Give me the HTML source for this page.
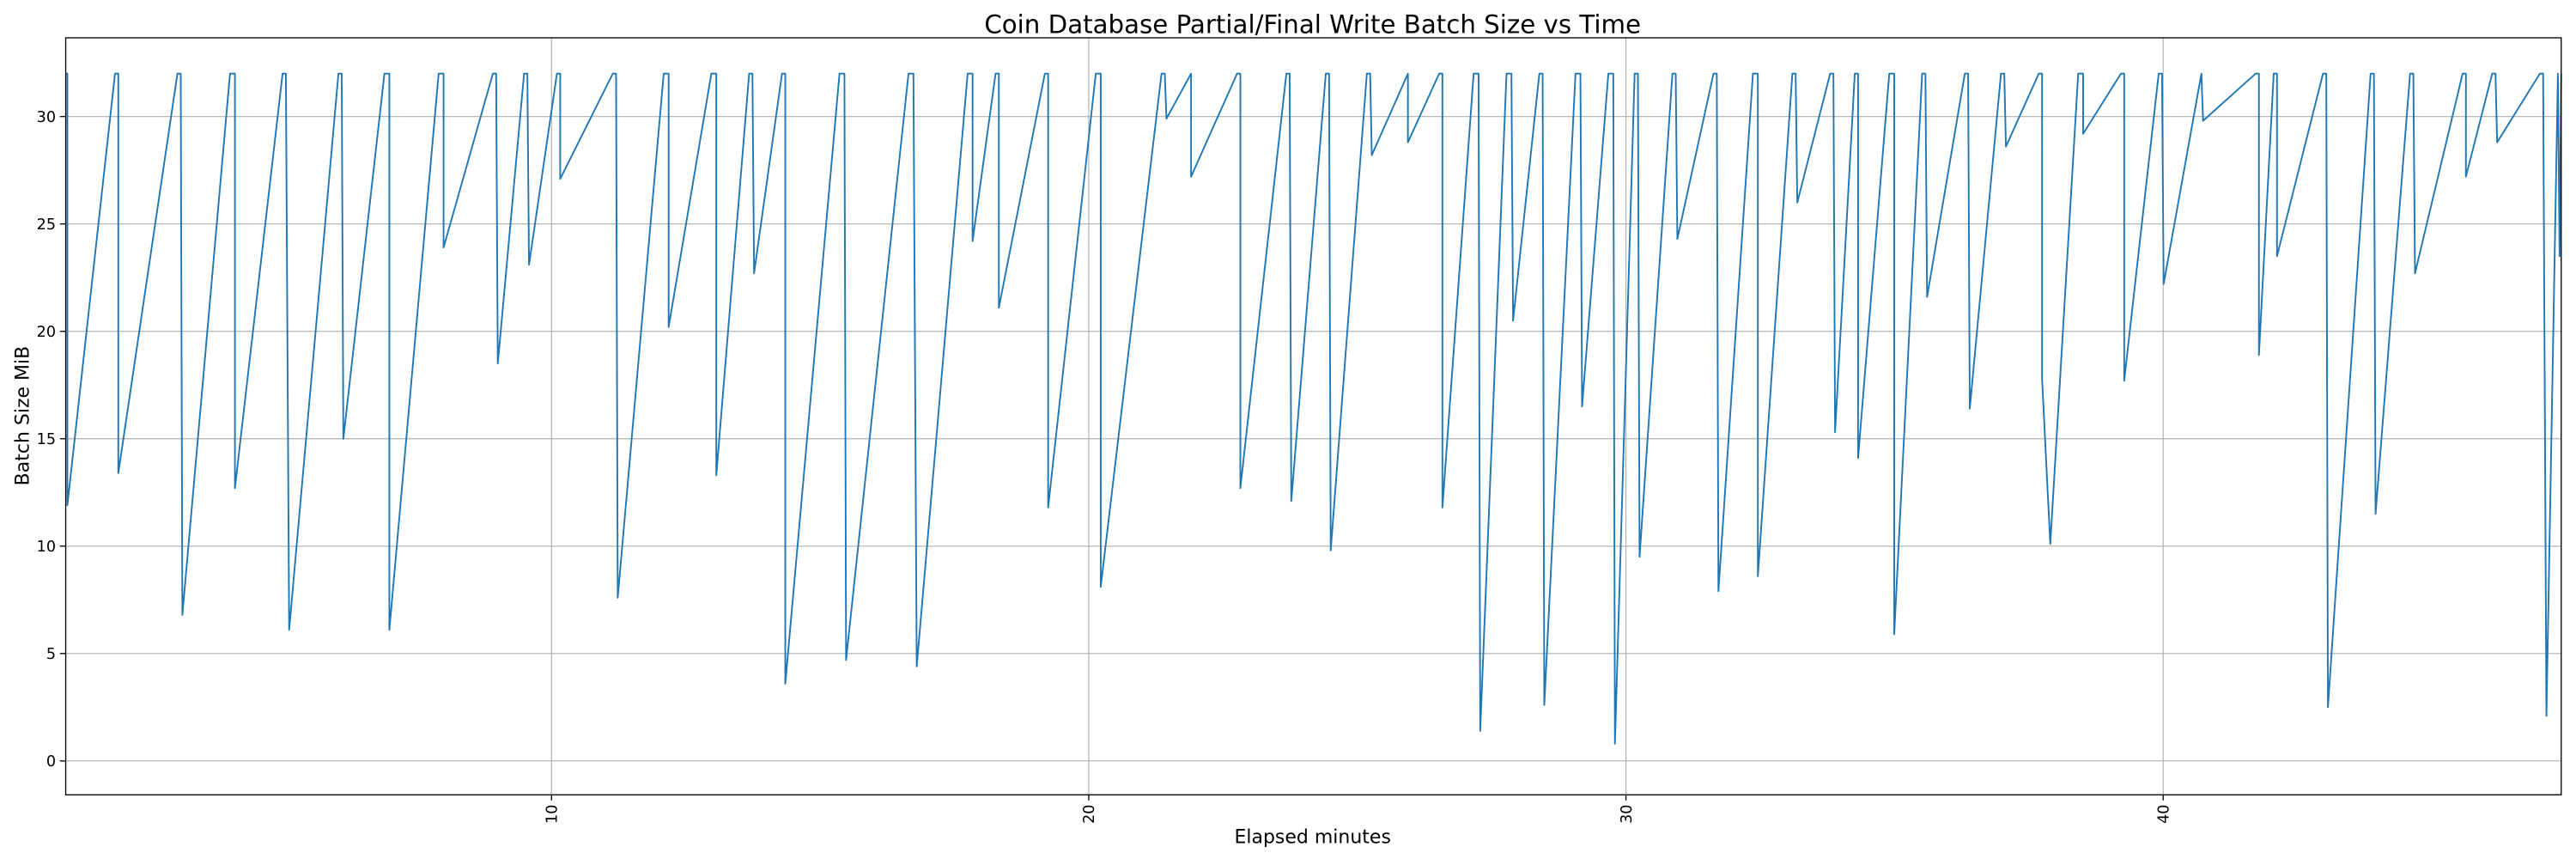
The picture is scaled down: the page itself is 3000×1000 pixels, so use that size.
<!DOCTYPE html>
<html><head><meta charset="utf-8"><style>html,body{margin:0;padding:0;background:#fff}svg{display:block}</style></head>
<body>
<svg width="3000" height="1000" viewBox="0 0 1568 522.67" xmlns="http://www.w3.org/2000/svg" font-family="DejaVu Sans, Liberation Sans, sans-serif">
<rect width="1568" height="522.67" fill="#fff"/>
<g stroke="#b0b0b0" stroke-width="0.6">
<line x1="40" x2="1559" y1="463" y2="463"/><line x1="40" x2="1559" y1="397.65" y2="397.65"/><line x1="40" x2="1559" y1="332.3" y2="332.3"/><line x1="40" x2="1559" y1="266.95" y2="266.95"/><line x1="40" x2="1559" y1="201.6" y2="201.6"/><line x1="40" x2="1559" y1="136.25" y2="136.25"/><line x1="40" x2="1559" y1="70.9" y2="70.9"/>
<line x1="335.7" x2="335.7" y1="23" y2="483.6"/><line x1="662.7" x2="662.7" y1="23" y2="483.6"/><line x1="989.7" x2="989.7" y1="23" y2="483.6"/><line x1="1316.7" x2="1316.7" y1="23" y2="483.6"/>
</g>
<polyline fill="none" stroke="#1f77b4" stroke-width="1" stroke-linejoin="round" points="40,44.8 41,44.8 41,307.5 70,44.8 72,44.8 72,287.9 108,44.8 110,44.8 111,374.1 140,44.8 143,44.8 143,297 172,44.8 174,44.8 176,383.3 206,44.8 208,44.8 209,267 234,44.8 237,44.8 237,383.3 267,44.8 270,44.8 270,150.6 300,44.8 302,44.8 303,221.2 319,44.8 321,44.8 322,161.1 339,44.8 341,44.8 341,108.8 373,44.8 375,44.8 376,363.7 404,44.8 407,44.8 407,199 433,44.8 436,44.8 436,289.2 456,44.8 458,44.8 459,166.3 476,44.8 478,44.8 478,416 511,44.8 514,44.8 515,401.6 553,44.8 556,44.8 558,405.5 589,44.8 592,44.8 592,146.7 606,44.8 608,44.8 608,187.2 636,44.8 638,44.8 638,308.8 667,44.8 670,44.8 670,357.1 707,44.8 709,44.8 710,72.2 725,44.8 725,107.5 753,44.8 755,44.8 755,297 783,44.8 785,44.8 786,304.9 807,44.8 809,44.8 810,334.9 832,44.8 834,44.8 835,94.4 857,44.8 857,86.6 876,44.8 878,44.8 878,308.8 897,44.8 900,44.8 901,444.7 917,44.8 920,44.8 921,195.1 937,44.8 939,44.8 940,429 959,44.8 962,44.8 963,247.3 979,44.8 982,44.8 983,452.5 995,44.8 997,44.8 998,338.8 1018,44.8 1020,44.8 1021,145.4 1043,44.8 1045,44.8 1046,359.7 1067,44.8 1070,44.8 1070,350.6 1091,44.8 1093,44.8 1094,123.2 1114,44.8 1116,44.8 1117,263 1129,44.8 1131,44.8 1131,278.7 1150,44.8 1153,44.8 1153,385.9 1170,44.8 1172,44.8 1173,180.7 1196,44.8 1198,44.8 1199,248.7 1218,44.8 1220,44.8 1221,89.2 1241,44.8 1243,44.8 1243,230.4 1248,331 1265,44.8 1268,44.8 1268,81.4 1291,44.8 1293,44.8 1293,231.7 1314,44.8 1316,44.8 1317,172.8 1340,44.8 1341,73.5 1373,44.8 1375,44.8 1375,216 1384,44.8 1386,44.8 1386,155.9 1414,44.8 1416,44.8 1417,430.3 1443,44.8 1445,44.8 1446,312.7 1467,44.8 1469,44.8 1470,166.3 1499,44.8 1501,44.8 1501,107.5 1517,44.8 1519,44.8 1520,86.6 1546,44.8 1548,44.8 1550,435.6 1557,44.8 1558,155.9 1559,44.8"/>
<rect x="40" y="23" width="1519" height="460.6" fill="none" stroke="#000" stroke-width="0.7"/>
<g stroke="#000" stroke-width="0.7">
<line x1="36.5" x2="40" y1="463" y2="463"/><line x1="36.5" x2="40" y1="397.65" y2="397.65"/><line x1="36.5" x2="40" y1="332.3" y2="332.3"/><line x1="36.5" x2="40" y1="266.95" y2="266.95"/><line x1="36.5" x2="40" y1="201.6" y2="201.6"/><line x1="36.5" x2="40" y1="136.25" y2="136.25"/><line x1="36.5" x2="40" y1="70.9" y2="70.9"/>
<line x1="335.7" x2="335.7" y1="483.6" y2="487"/><line x1="662.7" x2="662.7" y1="483.6" y2="487"/><line x1="989.7" x2="989.7" y1="483.6" y2="487"/><line x1="1316.7" x2="1316.7" y1="483.6" y2="487"/>
</g>
<g font-size="9.2" text-anchor="end" fill="#000">
<text x="34" y="466.3">0</text><text x="34" y="401">5</text><text x="34" y="335.6">10</text><text x="34" y="270.3">15</text><text x="34" y="204.9">20</text><text x="34" y="139.6">25</text><text x="34" y="74.2">30</text>
</g>
<g font-size="9.2" text-anchor="end" fill="#000">
<text transform="translate(339,489.5) rotate(-90)">10</text>
<text transform="translate(666,489.5) rotate(-90)">20</text>
<text transform="translate(993,489.5) rotate(-90)">30</text>
<text transform="translate(1320,489.5) rotate(-90)">40</text>
</g>
<text x="799" y="20" font-size="15.3" text-anchor="middle">Coin Database Partial/Final Write Batch Size vs Time</text>
<text x="799" y="513" font-size="11.5" text-anchor="middle">Elapsed minutes</text>
<text transform="translate(17.5,253) rotate(-90)" font-size="11.5" text-anchor="middle">Batch Size MiB</text>
</svg>
</body></html>
